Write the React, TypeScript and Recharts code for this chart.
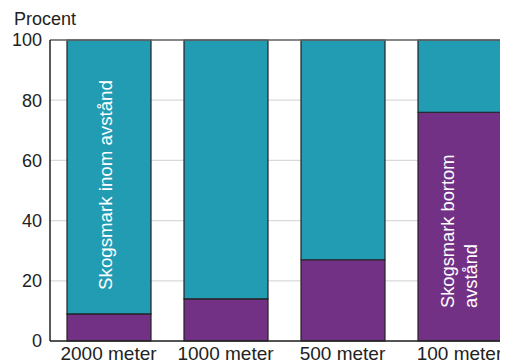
import { BarChart, Bar, XAxis, YAxis, CartesianGrid, ReferenceLine, LabelList, Customized } from 'recharts';

const categories = ['2000 meter', '1000 meter', '500 meter', '100 meter'];
const bortom = [9, 14, 27, 76];
const inom = [91, 86, 73, 24];
const yTicks = [0, 20, 40, 60, 80, 100];

const data = categories.map((name, i) => ({ name, bortom: bortom[i], inom: inom[i] }));

const font = '"Liberation Sans", Arial, sans-serif';

// rotated label inside the first teal bar
const renderInomLabel = (props: any) => {
  const { x, y, width, height, index } = props;
  if (index !== 0) return null;
  const cx = Number(x) + Number(width) / 2 + 3;
  const by = Number(y) + Number(height) - 24;
  return (
    <text x={cx} y={by} transform={`rotate(-90 ${cx} ${by})`} fill="#fff" fontSize={18.7} fontFamily={font}>
      Skogsmark inom avstånd
    </text>
  );
};

// two-line rotated label inside the last purple bar
const renderBortomLabel = (props: any) => {
  const { x, y, width, height, index } = props;
  if (index !== 3) return null;
  const cx = Number(x) + Number(width) / 2;
  const by = Number(y) + Number(height) - 33;
  return (
    <g transform={`rotate(-90 ${cx} ${by})`}>
      <text fill="#fff" fontSize={18.3} fontFamily={font}>
        <tspan x={cx} y={by - 6}>Skogsmark bortom</tspan>
        <tspan x={cx} y={by + 17}>avstånd</tspan>
      </text>
    </g>
  );
};

export default function App() {
  return (
    <div style={{ position: 'relative', width: 500, height: 356, overflow: 'hidden' }}>
      <BarChart
        width={520}
        height={356}
        data={data}
        margin={{ top: 32, right: 10, bottom: 0, left: 0 }}
      >
        <CartesianGrid vertical={false} stroke="#d9d9d9" strokeWidth={1.2} />
        <ReferenceLine y={100} stroke="#666" strokeWidth={1.5} />
        <XAxis
          dataKey="name"
          height={23}
          tickLine={false}
          tickMargin={0}
          axisLine={{ stroke: '#222', strokeWidth: 1.5 }}
          tick={{ fill: '#222', fontSize: 19, fontFamily: font }}
          interval={0}
        />
        <YAxis
          width={42}
          domain={[0, 100]}
          ticks={yTicks}
          tickLine={false}
          axisLine={{ stroke: '#222', strokeWidth: 1.5 }}
          tick={{ fill: '#222', fontSize: 18, fontFamily: font }}
        />
        <Bar dataKey="bortom" stackId="a" fill="#733185" stroke="#222" strokeWidth={1.2} barSize={84} isAnimationActive={false}>
          <LabelList dataKey="bortom" content={renderBortomLabel} />
        </Bar>
        <Bar dataKey="inom" stackId="a" fill="#219cb3" stroke="#222" strokeWidth={1.2} barSize={84} isAnimationActive={false}>
          <LabelList dataKey="inom" content={renderInomLabel} />
        </Bar>
        <Customized
          component={() => (
            <text x={6} y={17} fill="#222" fontSize={18} fontFamily={font}>
              Procent
            </text>
          )}
        />
      </BarChart>
    </div>
  );
}
